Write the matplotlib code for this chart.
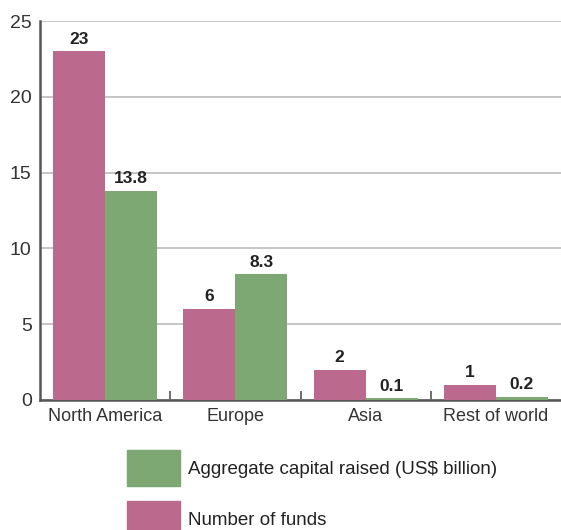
import matplotlib.pyplot as plt
from matplotlib.patches import Patch
import numpy as np

regions = ["North America", "Europe", "Asia", "Rest of world"]
num_funds = [23, 6, 2, 1]
capital_raised = [13.8, 8.3, 0.1, 0.2]
num_labels = ["23", "6", "2", "1"]
cap_labels = ["13.8", "8.3", "0.1", "0.2"]

pink = "#BB6A8D"
green = "#7DA873"
axis_col = "#555555"

plt.rcParams["font.family"] = ["Liberation Sans", "DejaVu Sans"]

fig = plt.figure(figsize=(5.61, 5.30), dpi=100)
ax = fig.add_axes([40 / 561, 130 / 530, 521 / 561, 379 / 530])

x = np.arange(len(regions))
w = 0.4
b1 = ax.bar(x - w / 2, num_funds, width=w, color=pink, zorder=3)
b2 = ax.bar(x + w / 2, capital_raised, width=w, color=green, zorder=3)

# valeurs au-dessus des barres
for bars, labs in ((b1, num_labels), (b2, cap_labels)):
    for bar, lab in zip(bars, labs):
        ax.text(bar.get_x() + bar.get_width() / 2, bar.get_height() + 0.3, lab,
                ha="center", va="bottom", fontsize=12.5, fontweight="bold", color="#222222")

ax.set_xlim(-0.5, len(regions) - 0.5)
ax.set_ylim(0, 25)
ax.set_yticks([0, 5, 10, 15, 20, 25])
ax.yaxis.grid(True, color="#bbbbbb", linewidth=1.2, zorder=0)

ax.set_xticks(x)
ax.set_xticklabels(regions, fontsize=13, color="#333333")
ax.set_xticks(x[:-1] + 0.5, minor=True)
ax.tick_params(axis="x", which="major", length=0, pad=6)
ax.tick_params(axis="x", which="minor", direction="in", length=6.5, width=1.2, color=axis_col)
ax.tick_params(axis="y", length=0, pad=6, labelsize=14, labelcolor="#333333")

for s in ("top", "right"):
    ax.spines[s].set_visible(False)
ax.spines["left"].set_color(axis_col)
ax.spines["left"].set_linewidth(1.8)
ax.spines["bottom"].set_color(axis_col)
ax.spines["bottom"].set_linewidth(1.8)

handles = [Patch(color=green), Patch(color=pink)]
fig.legend(handles, ["Aggregate capital raised (US$ billion)", "Number of funds"],
           loc="upper left", bbox_to_anchor=(110 / 561, 1 - 433 / 530),
           frameon=False, fontsize=13.5, handlelength=2.83, handleheight=2.58,
           labelspacing=0.8, handletextpad=0.43, labelcolor="#222222")

fig.savefig("out.png", dpi=100)
